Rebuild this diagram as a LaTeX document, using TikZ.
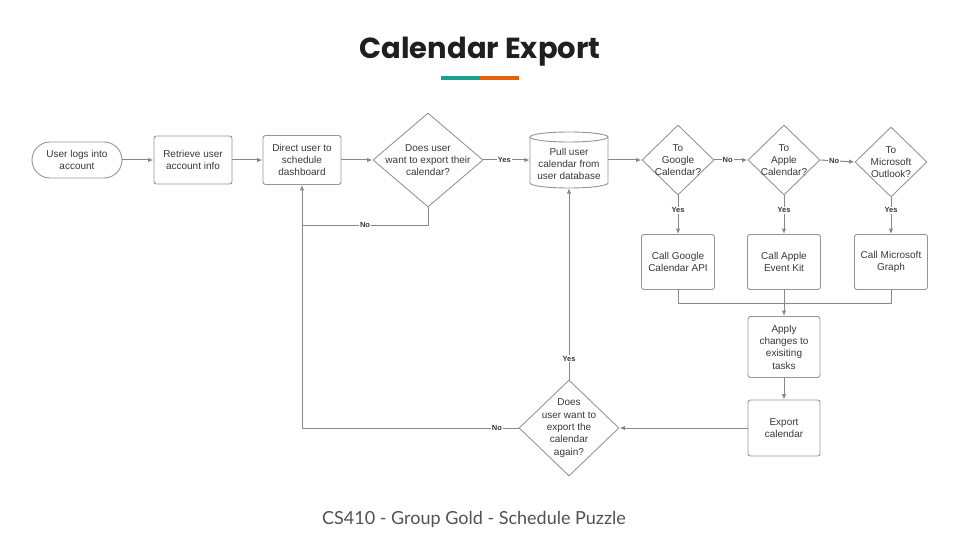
\documentclass[tikz,border=0pt]{standalone}
\usepackage{fontspec}
\setmainfont{Liberation Sans}
\newfontfamily\titlefont{Poppins}
\newfontfamily\footfont{Lato}
\usetikzlibrary{shapes.geometric,arrows.meta,calc}
\definecolor{boxc}{HTML}{959595}
\definecolor{linec}{HTML}{888888}
\definecolor{txtc}{HTML}{383838}
\definecolor{teal}{HTML}{17A08C}
\definecolor{orng}{HTML}{E8600C}
\tikzset{
  txt/.style={align=center,font=\fontsize{10}{12.3}\selectfont,text=txtc},
  box/.style={txt,draw=boxc,rounded corners=2.5pt,line width=0.9pt,inner sep=1pt},
  term/.style={txt,draw=boxc,rounded corners=18pt,line width=0.9pt,minimum width=90pt,minimum height=36pt},
  dia/.style={draw=boxc,diamond,inner sep=0pt,line width=0.9pt},
  conn/.style={draw=linec,line width=1pt,-{Latex[length=5.5pt,width=4.5pt]}},
  plain/.style={draw=linec,line width=1pt},
  yn/.style={font=\fontsize{7.5}{8}\selectfont\bfseries,fill=white,inner sep=1pt,text=txtc}
}
\begin{document}
\begin{tikzpicture}[x=1pt,y=-1pt]
\useasboundingbox (0,0) rectangle (960,540);
% title
\node[font=\titlefont\bfseries\fontsize{29}{33}\selectfont,text=black!88] (title) at (480,51.5) {Calendar Export};
\fill[teal] (441,76.5) rectangle (480,80.5);
\fill[orng] (480,76.5) rectangle (519,80.5);
\node[font=\footfont\fontsize{18}{21}\selectfont,text=black!68] (foot) at (474,519) {CS410 - Group Gold - Schedule Puzzle};

% nodes
\node[term] (start) at (77,160) {User logs into\\account};
\node[box,minimum width=78pt,minimum height=48pt] (retr) at (193,160) {Retrieve user\\account info};
\node[box,minimum width=78pt,minimum height=49pt] (direct) at (302,160) {Direct user to\\schedule\\dashboard};
\node[dia,minimum width=110pt,minimum height=94pt,label={[txt]center:Does user\\want to export their\\calendar?}] (d1) at (428,160) {};
\node[txt,minimum width=78pt,minimum height=56pt] (cyl) at (569,160) {};
\node[txt] (cyltxt) at (569,164) {Pull user\\calendar from\\user database};
\draw[draw=boxc,line width=0.9pt] (530,137) -- (530,183) arc[start angle=180,end angle=360,x radius=39pt,y radius=5pt] -- (608,137);
\draw[draw=boxc,line width=0.9pt] (569,137) ellipse [x radius=39pt,y radius=5pt];

\node[dia,minimum width=72pt,minimum height=70pt,label={[txt]center:To\\Google\\Calendar?}] (dg) at (678,160) {};
\node[dia,minimum width=72pt,minimum height=70pt,label={[txt]center:To\\Apple\\Calendar?}] (da) at (784,160) {};
\node[dia,minimum width=72pt,minimum height=70pt,label={[txt]center:To\\Microsoft\\Outlook?}] (dm) at (891,162) {};

\node[box,minimum width=73pt,minimum height=55pt] (gc) at (678,262) {Call Google\\Calendar API};
\node[box,minimum width=73pt,minimum height=55pt] (ac) at (784,262) {Call Apple\\Event Kit};
\node[box,minimum width=73pt,minimum height=55pt] (mc) at (891,262) {Call Microsoft\\Graph};
\node[box,minimum width=72pt,minimum height=61pt] (apply) at (784,347) {Apply\\changes to\\exisiting\\tasks};
\node[box,minimum width=72pt,minimum height=56pt] (export) at (784,428) {Export\\calendar};
\node[dia,minimum width=100pt,minimum height=96pt,label={[txt]center:Does\\user want to\\export the\\calendar\\again?}] (d3) at (569,428) {};

\coordinate (j1) at (302,225);
\coordinate (jm) at (678,303);

% connectors
\draw[conn] (start) -- (retr);
\draw[conn] (retr) -- (direct);
\draw[conn] (direct) -- (d1);
\draw[conn] (d1.east) -- node[yn,pos=0.45]{Yes} (cyl.west);
\draw[conn] (cyl.east) -- (dg.west);
\draw[conn] (dg.east) -- node[yn,pos=0.4]{No} (da.west);
\draw[conn] (da.east) -- node[yn,pos=0.4]{No} (dm.west);
\draw[conn] (dg.south) -- node[yn,pos=0.38]{Yes} (gc.north);
\draw[conn] (da.south) -- node[yn,pos=0.38]{Yes} (ac.north);
\draw[conn] (dm.south) -- node[yn,pos=0.35]{Yes} (mc.north);
\draw[plain] (gc.south) -- (jm) -| (mc.south);
\draw[conn] (ac.south) -- (apply.north);
\draw[conn] (apply.south) -- (export.north);
\draw[conn] (export.west) -- (d3.east);
\draw[conn] (d3.north) -- node[yn,pos=0.11]{Yes} (cyl.south);
\draw[conn] (d3.west) -| node[yn,pos=0.05]{No} (direct.south);
\draw[plain] (d1.south) |- node[yn,pos=0.75]{No} (j1);
\end{tikzpicture}
\end{document}
